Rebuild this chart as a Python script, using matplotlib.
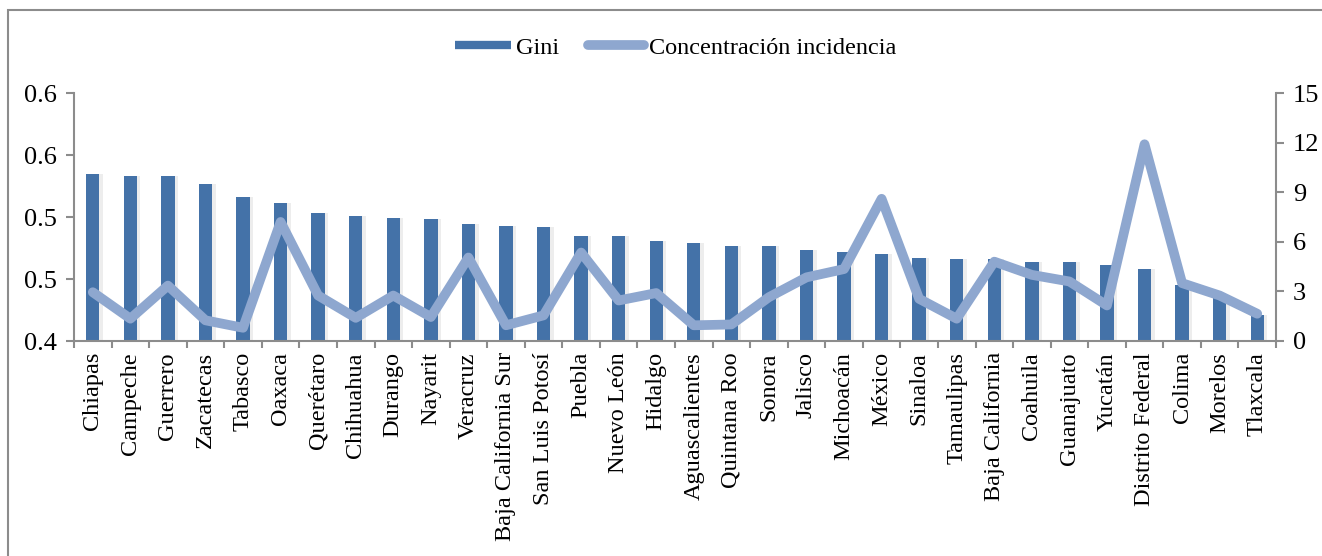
import matplotlib.pyplot as plt
from matplotlib.lines import Line2D
from matplotlib.patches import Rectangle
import numpy as np

plt.rcParams['font.family'] = ['Liberation Serif', 'DejaVu Serif']

estados = ["Chiapas", "Campeche", "Guerrero", "Zacatecas", "Tabasco", "Oaxaca",
           "Querétaro", "Chihuahua", "Durango", "Nayarit", "Veracruz",
           "Baja California Sur", "San Luis Potosí", "Puebla", "Nuevo León",
           "Hidalgo", "Aguascalientes", "Quintana Roo", "Sonora", "Jalisco",
           "Michoacán", "México", "Sinaloa", "Tamaulipas", "Baja California",
           "Coahuila", "Guanajuato", "Yucatán", "Distrito Federal", "Colima",
           "Morelos", "Tlaxcala"]
gini = [0.535, 0.533, 0.533, 0.527, 0.516, 0.511, 0.503, 0.501, 0.499, 0.498,
        0.494, 0.493, 0.492, 0.485, 0.485, 0.481, 0.479, 0.477, 0.477, 0.473,
        0.472, 0.470, 0.467, 0.466, 0.466, 0.464, 0.464, 0.461, 0.458, 0.445,
        0.435, 0.421]
concentracion = [2.95, 1.35, 3.35, 1.25, 0.8, 7.2, 2.75, 1.4, 2.75, 1.45, 5.05,
                 0.95, 1.55, 5.35, 2.45, 2.9, 0.95, 1.0, 2.65, 3.85, 4.35, 8.6,
                 2.55, 1.35, 4.8, 4.0, 3.6, 2.15, 11.9, 3.5, 2.75, 1.65]
left_ticks = [0.40, 0.45, 0.50, 0.55, 0.60]
left_labels = ["0.4", "0.5", "0.5", "0.6", "0.6"]
right_ticks = [0, 3, 6, 9, 12, 15]

bar_color = '#4472a8'
line_color = '#8ea7cf'
axis_color = '#8c8c8c'

fig = plt.figure(figsize=(13.22, 5.56), dpi=100)
fig.patches.append(Rectangle((8 / 1322, -0.1), 1.2, 0.1 + 1 - 10 / 556,
                             transform=fig.transFigure, fill=False,
                             edgecolor='#8c8c8c', lw=1.5))

ax = fig.add_axes([74 / 1322, 215 / 556, 1202 / 1322, 248 / 556])
x = np.arange(len(estados))

# soft shadow behind the bars
ax.bar(x + 0.06, np.array(gini) - 0.40, width=0.42, bottom=0.40,
       color='#dcdcdc', alpha=0.5, zorder=1)
ax.bar(x, np.array(gini) - 0.40, width=0.355, bottom=0.40, color=bar_color,
       zorder=2)

ax.set_xlim(-0.5, len(estados) - 0.5)
ax.set_ylim(0.40, 0.60)
ax.set_yticks(left_ticks)
ax.set_yticklabels(left_labels, fontsize=19)
ax.set_xticks(x)
ax.set_xticklabels(estados, rotation=90, fontsize=17.5, va='top')
ax.set_xticks(np.arange(len(estados) + 1) - 0.5, minor=True)
ax.tick_params(axis='x', which='major', length=0, pad=8)
ax.tick_params(axis='x', which='minor', length=5, color=axis_color, width=1.5)
ax.tick_params(axis='y', length=6, color=axis_color, width=1.5, pad=6)
for s in ['top', 'right']:
    ax.spines[s].set_visible(False)
for s in ['left', 'bottom']:
    ax.spines[s].set_color(axis_color)
    ax.spines[s].set_linewidth(1.5)

ax2 = ax.twinx()
ax2.plot(x, concentracion, color=line_color, lw=7, solid_joinstyle='round',
         solid_capstyle='round', zorder=3)
ax2.set_ylim(0, 15)
ax2.set_yticks(right_ticks)
ax2.tick_params(axis='y', labelsize=19, length=6, color=axis_color, width=1.5,
                pad=6)
for s in ['top', 'left', 'bottom']:
    ax2.spines[s].set_visible(False)
ax2.spines['right'].set_color(axis_color)
ax2.spines['right'].set_linewidth(1.5)

handles = [Line2D([0], [0], color=bar_color, lw=6, solid_capstyle='butt'),
           Line2D([0], [0], color=line_color, lw=7, solid_capstyle='round')]
fig.legend(handles, ["Gini", "Concentración incidencia"], loc='center',
           bbox_to_anchor=(0.511, 1 - 48 / 556), ncol=2, frameon=False,
           fontsize=17.5, handlelength=2.3, handletextpad=0.2, columnspacing=1.2)

fig.savefig('out.png', dpi=100)
